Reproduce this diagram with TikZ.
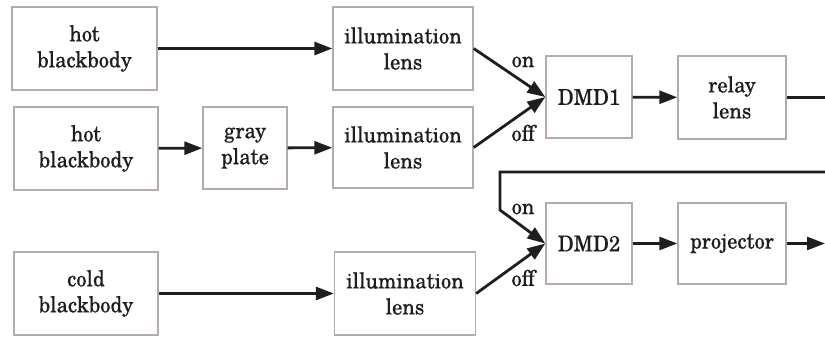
\documentclass[tikz,border=0pt]{standalone}
\usepackage{fontspec}
\newfontfamily\diafont{TeX Gyre Schola}[FakeStretch=0.93, FakeBold=0.3]
\usetikzlibrary{arrows.meta}
\definecolor{boxline}{HTML}{B5ABA9}
\definecolor{ink}{HTML}{1E1E1E}
\begin{document}
\begin{tikzpicture}[x=1pt,y=-1pt,
  blk/.style={draw=boxline, line width=1.4pt, inner sep=0pt, align=center,
    text=ink, font=\diafont\fontsize{22}{26}\selectfont},
  conn/.style={draw=ink, line width=2.8pt, -{Triangle[length=18pt,width=13pt]}},
  plain/.style={draw=ink, line width=2.8pt},
  lab/.style={text=ink, font=\diafont\fontsize{22}{26}\selectfont, inner sep=0pt}]
\useasboundingbox (0,0) rectangle (825,337);
\node[blk, minimum width=145pt, minimum height=83pt] (hb1) at (84.5,48.5) {hot\\blackbody};
\node[blk, minimum width=144pt, minimum height=83pt] (hb2) at (86,148.5) {hot\\blackbody};
\node[blk, minimum width=84pt, minimum height=82pt] (gp) at (245,148) {gray\\plate};
\node[blk, minimum width=140pt, minimum height=83pt] (il1) at (403,48.5) {illumination\\lens};
\node[blk, minimum width=140pt, minimum height=81pt] (il2) at (403,147.5) {illumination\\lens};
\node[blk, minimum width=86pt, minimum height=82pt] (dmd1) at (589,97) {DMD1};
\node[blk, minimum width=108pt, minimum height=83pt] (relay) at (732,97.5) {relay\\lens};
\node[blk, minimum width=86pt, minimum height=81pt] (dmd2) at (589,243.5) {DMD2};
\node[blk, minimum width=108pt, minimum height=81pt] (proj) at (732,243.5) {projector};
\node[blk, minimum width=144pt, minimum height=83pt] (cb) at (86,293.5) {cold\\blackbody};
\node[blk, minimum width=141pt, minimum height=83pt] (il3) at (405,293.5) {illumination\\lens};

\coordinate (r1) at (832,97.5);
\coordinate (r2) at (832,172);
\coordinate (r3) at (500,172);
\coordinate (r4) at (500,210);
\coordinate (pout) at (825,243.5);

\draw[conn] (hb1) -- (il1);
\draw[conn] (hb2) -- (gp);
\draw[conn] (gp) -- (il2);
\draw[conn] (il1.east) -- (dmd1.west);
\draw[conn] (il2.east) -- (dmd1.west);
\draw[conn] (dmd1) -- (relay);
\draw[plain] (relay.east) -- (r1);
\draw[conn, line join=miter] (r2) -- (r3) -- (r4) -- (dmd2.west);
\draw[conn] (il3.east) -- (dmd2.west);
\draw[conn] (cb) -- (il3);
\draw[conn] (dmd2) -- (proj);
\draw[conn] (proj) -- (pout);

\node[lab] (on1) at (523,62) {on};
\node[lab] (off1) at (523,133) {off};
\node[lab] (on2) at (523,209) {on};
\node[lab] (off2) at (523,278) {off};
\end{tikzpicture}
\end{document}
